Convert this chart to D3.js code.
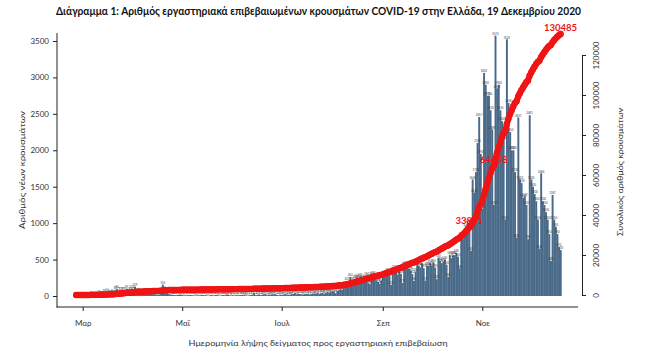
<!DOCTYPE html>
<html><head><meta charset="utf-8">
<script src="https://cdn.jsdelivr.net/npm/d3@7"></script>
<style>
body{margin:0;background:#fff}
svg{display:block}
text{font-family:Lato,"Open Sans",sans-serif}
</style>
</head><body>
<svg id="c" width="650" height="361"></svg>
<script>
// ---------- data ----------
const startDate = "2020-02-26";
const endDate = "2020-12-19";
const febCases = [1, 2, 1, 3];
const marCases = [0, 0, 2, 2, 5, 22, 13, 7, 11, 8, 32, 10, 20, 38, 23, 56, 35, 31, 46, 31, 84, 94, 71, 72, 78, 71, 74, 95, 64, 70, 102];
const aprCases = [77, 129, 60, 62, 48, 20, 41, 60, 56, 42, 30, 61, 25, 24, 19, 19, 22, 62, 156, 80, 33, 41, 26, 16, 18, 14, 11, 15, 19, 20];
const mayCases = [15, 6, 12, 9, 13, 15, 10, 10, 6, 8, 10, 9, 16, 12, 11, 8, 5, 10, 14, 7, 12, 16, 8, 5, 10, 14, 11, 22, 19, 10, 8];
const junCases = [12, 5, 14, 9, 13, 14, 16, 18, 8, 6, 9, 15, 19, 41, 12, 17, 21, 12, 19, 23, 27, 11, 20, 18, 24, 23, 27, 13, 10, 19];
const julCases = [14, 21, 25, 22, 18, 16, 34, 28, 41, 23, 32, 27, 24, 19, 29, 31, 26, 21, 27, 35, 36, 33, 42, 31, 38, 46, 32, 43, 55, 48, 62];
const augCases = [70, 62, 38, 71, 81, 97, 86, 125, 151, 203, 150, 262, 154, 204, 230, 254, 217, 269, 235, 229, 242, 284, 179, 163, 284, 293, 246, 213, 192, 168, 212];
const sepCases = [250, 282, 301, 334, 296, 152, 340, 371, 320, 295, 339, 305, 179, 410, 422, 388, 371, 348, 302, 206, 336, 443, 412, 395, 453, 383, 211, 420, 416, 452];
const octCases = [420, 460, 390, 230, 520, 480, 450, 470, 500, 430, 260, 560, 520, 560, 560, 590, 540, 380, 820, 780, 820, 940, 1010, 980, 620, 1600, 1420, 1700, 2100, 2457, 1950];
const novCases = [1200, 3062, 2900, 2750, 2750, 2550, 2288, 1250, 3574, 2850, 2900, 2550, 2400, 2150, 1050, 3523, 2650, 2250, 2000, 2000, 1700, 800, 2451, 1600, 1550, 1350, 1367, 1250, 780, 2481];
const decCases = [1600, 1500, 1400, 1300, 1050, 650, 1684, 1300, 1250, 1150, 1050, 850, 480, 1387, 1050, 950, 850, 670, 630];

const leftTicks = [0, 500, 1000, 1500, 2000, 2500, 3000, 3500];
const rightTicks = [0, 20000, 40000, 60000, 80000, 100000, 120000];
const monthTickDates = ["2020-03-01", "2020-05-01", "2020-07-01", "2020-09-01", "2020-11-01"];
const monthLabels = ["Μαρ", "Μαΐ", "Ιουλ", "Σεπ", "Νοε"];
const annotatedDates = ["2020-10-24", "2020-11-08", "2020-12-19"];

const titleText = "Διάγραμμα 1: Αριθμός εργαστηριακά επιβεβαιωμένων κρουσμάτων COVID-19 στην Ελλάδα, 19 Δεκεμβρίου 2020";
const leftTitle = "Αριθμός νέων κρουσμάτων";
const rightTitle = "Συνολικός αριθμός κρουσμάτων";
const xTitle = "Ημερομηνία λήψης δείγματος προς εργαστηριακή επιβεβαίωση";

// ---------- build ----------
const parse = s => new Date(s + "T00:00:00Z");
const dailyCases = [].concat(febCases, marCases, aprCases, mayCases, junCases, julCases, augCases, sepCases, octCases, novCases, decCases);
const t0 = parse(startDate);
const cum = d3.cumsum(dailyCases);
const days = dailyCases.map((v, i) => ({ date: d3.utcDay.offset(t0, i), value: v, cum: cum[i] }));

const svg = d3.select("#c");

const x = d3.scaleUtc()
  .domain([parse(monthTickDates[0]), parse(monthTickDates[monthTickDates.length - 1])])
  .range([82.7, 482.3]);
const yL = d3.scaleLinear().domain([0, 3500]).range([296, 41]);
const yR = d3.scaleLinear().domain([0, 120000]).range([295, 55]);
const step = x(d3.utcDay.offset(t0, 1)) - x(t0);

const barColor = "#4a6a89";
const red = "#f01414";
const axisColor = "#222";
const textColor = "#333";

// bars
svg.append("g").selectAll("rect").data(days).join("rect")
  .attr("x", d => x(d.date) - step / 2)
  .attr("width", step + 0.3)
  .attr("y", d => yL(d.value))
  .attr("height", d => yL(0) - yL(d.value))
  .attr("fill", barColor);

// tiny bar value labels
svg.append("g").selectAll("text").data(days).join("text")
  .attr("x", d => x(d.date))
  .attr("y", d => yL(d.value) - 0.8)
  .attr("text-anchor", "middle")
  .attr("font-size", 2.8)
  .attr("fill", "#3a3a3a")
  .text(d => d.value);

// cumulative line
const line = d3.line().x(d => x(d.date)).y(d => yR(d.cum));
svg.append("path").datum(days)
  .attr("d", line)
  .attr("fill", "none")
  .attr("stroke", red)
  .attr("stroke-width", 6)
  .attr("stroke-linejoin", "round")
  .attr("stroke-linecap", "round");
svg.append("g").selectAll("circle").data(days).join("circle")
  .attr("cx", d => x(d.date))
  .attr("cy", d => yR(d.cum))
  .attr("r", 3.2)
  .attr("fill", red);

// annotations
const ann = days.filter(d => annotatedDates.includes(d3.utcFormat("%Y-%m-%d")(d.date)));
svg.append("g").selectAll("text").data(ann).join("text")
  .attr("x", d => x(d.date))
  .attr("y", d => yR(d.cum) - 3.5)
  .attr("text-anchor", "middle")
  .attr("font-size", 9.5)
  .attr("font-weight", "bold")
  .attr("fill", red)
  .text(d => d.cum);

// axes
const fmt = (g) => {
  g.select(".domain").remove();
  g.selectAll(".tick line").attr("stroke", axisColor);
  g.selectAll(".tick text").attr("fill", textColor).attr("font-size", 8)
    .style("font-family", "Lato, 'Open Sans', sans-serif");
};

svg.append("g").attr("transform", "translate(57,0)")
  .call(d3.axisLeft(yL).tickValues(leftTicks).tickSize(4).tickPadding(4).tickFormat(d3.format("d")))
  .call(fmt);

const gR = svg.append("g").attr("transform", "translate(582,0)")
  .call(d3.axisRight(yR).tickValues(rightTicks).tickSize(4).tickSizeOuter(0).tickFormat(d3.format("d")));
gR.select(".domain").attr("stroke", axisColor);
gR.selectAll(".tick line").attr("stroke", axisColor);
gR.selectAll(".tick text")
  .attr("x", 0).attr("dy", 0)
  .attr("transform", "translate(17,0) rotate(-90)")
  .attr("text-anchor", "middle")
  .attr("fill", textColor).attr("font-size", 8)
  .style("font-family", "Lato, 'Open Sans', sans-serif");

svg.append("g").attr("transform", "translate(0,307)")
  .call(d3.axisBottom(x).tickValues(monthTickDates.map(parse)).tickSize(4).tickPadding(9)
    .tickFormat((d, i) => monthLabels[i]))
  .call(fmt);

// frame lines
svg.append("line").attr("x1", 57).attr("x2", 57).attr("y1", 33).attr("y2", 307.5)
  .attr("stroke", axisColor).attr("stroke-width", 1);
svg.append("line").attr("x1", 56.5).attr("x2", 578).attr("y1", 307).attr("y2", 307)
  .attr("stroke", axisColor).attr("stroke-width", 1);

// titles
svg.append("text").attr("x", 318.5).attr("y", 15)
  .attr("text-anchor", "middle").attr("font-size", 10.5).attr("font-weight", "bold")
  .attr("fill", "#111")
  .attr("textLength", 525).attr("lengthAdjust", "spacingAndGlyphs")
  .text(titleText);

svg.append("text").attr("transform", "translate(25,170) rotate(-90)")
  .attr("text-anchor", "middle").attr("font-size", 8).attr("fill", textColor)
  .attr("textLength", 118).attr("lengthAdjust", "spacingAndGlyphs")
  .text(leftTitle);

svg.append("text").attr("transform", "translate(623,172) rotate(-90)")
  .attr("text-anchor", "middle").attr("font-size", 8).attr("fill", textColor)
  .attr("textLength", 128).attr("lengthAdjust", "spacingAndGlyphs")
  .text(rightTitle);

svg.append("text").attr("x", 318).attr("y", 346)
  .attr("text-anchor", "middle").attr("font-size", 8).attr("fill", textColor)
  .attr("textLength", 259).attr("lengthAdjust", "spacingAndGlyphs")
  .text(xTitle);
</script>
</body></html>
